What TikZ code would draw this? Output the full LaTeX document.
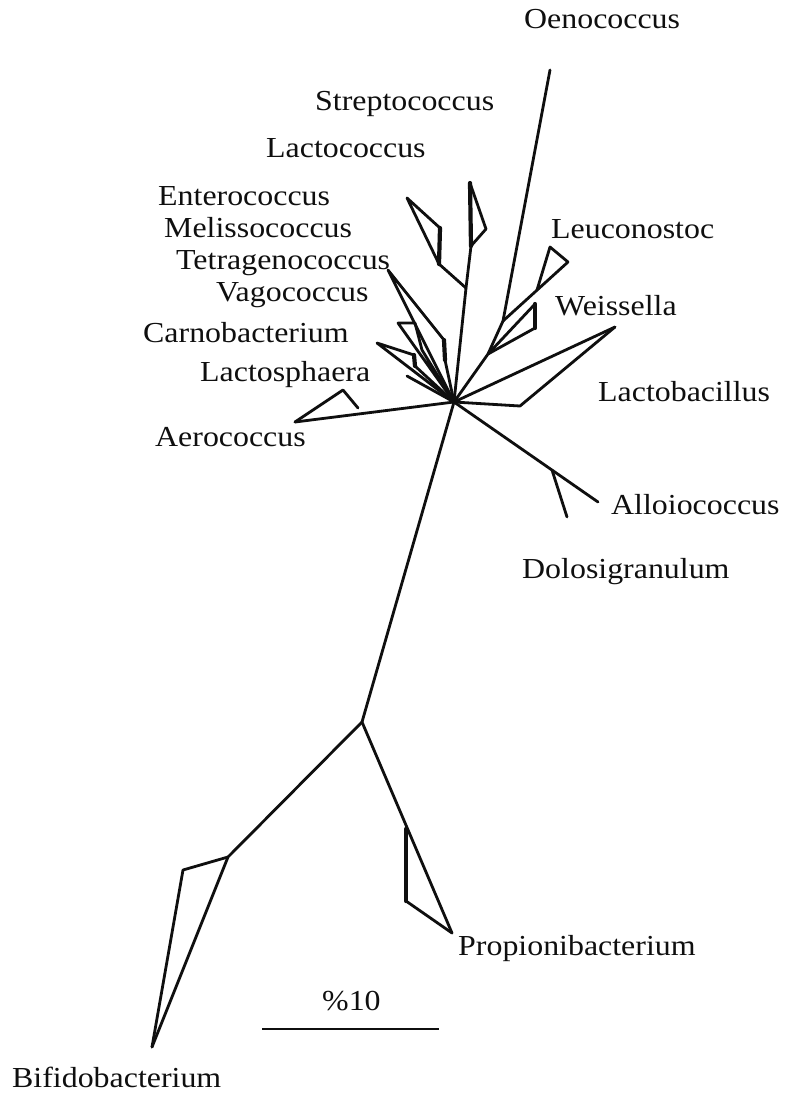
\documentclass[tikz,border=0pt]{standalone}
\usepackage{fontspec}
\setmainfont{Liberation Serif}[FakeStretch=1.1]
\usepackage{xcolor}
\definecolor{phInk}{RGB}{15,15,15}
\usepackage{tikz}
\tikzset{
  ph-edge/.style={draw=phInk,line width=2.8pt,line join=round,line cap=round},
  ph-heavy/.style={draw=phInk,line width=4.2pt,line join=round,line cap=round},
  ph-taxon/.style={anchor=base west,inner sep=0pt,text=phInk,font=\fontsize{29}{34}\selectfont},
}

\begin{document}
\begin{tikzpicture}[x=1pt,y=-1pt]
  \fill[white] (0,0) rectangle (790,1093);
  \useasboundingbox (0,0) rectangle (790,1093);

  % backbone and outgroups
  \coordinate (hub) at (454,402);
  \coordinate (lo) at (362,722);
  \coordinate (bif) at (228,857);
  \coordinate (bifk) at (183,870);
  \coordinate (biftip) at (152,1047);
  \coordinate (prpa) at (406,829);
  \coordinate (prpb) at (406,901);
  \coordinate (prptip) at (452,933);

  % right-hand clades
  \coordinate (n2) at (488,354);
  \coordinate (n1) at (503,321);
  \coordinate (oeno) at (550,70);
  \coordinate (leu) at (568,262);
  \coordinate (leuk) at (537,290);
  \coordinate (leua) at (550,247);
  \coordinate (weia) at (535,304);
  \coordinate (weib) at (535,328);
  \coordinate (lb) at (615,327);
  \coordinate (lbk) at (520,406);
  \coordinate (allo) at (598,502);
  \coordinate (dolk) at (552,470);
  \coordinate (dol) at (567,517);

  % upper clades
  \coordinate (strep) at (470,183);
  \coordinate (strepk) at (471,246);
  \coordinate (strepa) at (486,229);
  \coordinate (ent) at (466,288);
  \coordinate (entk) at (439,264);
  \coordinate (enttip) at (407,198);
  \coordinate (enta) at (440,228);

  % left-hand clades
  \coordinate (tet) at (388,270);
  \coordinate (tetk1) at (444,340);
  \coordinate (tetk2) at (445,360);
  \coordinate (vago) at (398,323);
  \coordinate (vagok) at (415,323);
  \coordinate (vagok2) at (422,350);
  \coordinate (carno) at (377,343);
  \coordinate (carnok1) at (414,355);
  \coordinate (carnok2) at (415,366);
  \coordinate (lsph) at (407,376);
  \coordinate (aero) at (295,422);
  \coordinate (aerok1) at (358,408);
  \coordinate (aerok2) at (343,390);

  % scale bar
  \coordinate (barL) at (262,1029);
  \coordinate (barR) at (439,1029);

  % branches
  \draw[ph-edge] (hub) -- (lo);
  \draw[ph-edge] (lo) -- (bif) -- (biftip);
  \draw[ph-edge] (bif) -- (bifk) -- (biftip);
  \draw[ph-edge] (lo) -- (prptip);
  \draw[ph-heavy] (prpa) -- (prpb);
  \draw[ph-edge] (prpb) -- (prptip);

  \draw[ph-edge] (hub) -- (n2) -- (n1) -- (oeno);
  \draw[ph-edge] (n1) -- (leu);
  \draw[ph-edge] (leuk) -- (leua) -- (leu);
  \draw[ph-edge] (n2) -- (weia);
  \draw[ph-heavy] (weia) -- (weib);
  \draw[ph-edge] (weib) -- (n2);
  \draw[ph-edge] (hub) -- (lb);
  \draw[ph-edge] (hub) -- (lbk) -- (lb);
  \draw[ph-edge] (hub) -- (allo);
  \draw[ph-edge] (dolk) -- (dol);

  \draw[ph-edge] (hub) -- (ent) -- (strepk);
  \draw[ph-heavy] (strepk) -- (strep);
  \draw[ph-edge] (strep) -- (strepa) -- (strepk);
  \draw[ph-edge] (ent) -- (entk) -- (enttip) -- (enta);
  \draw[ph-heavy] (enta) -- (entk);

  \draw[ph-edge] (hub) -- (tet) -- (tetk1);
  \draw[ph-heavy] (tetk1) -- (tetk2);
  \draw[ph-edge] (tetk2) -- (hub);
  \draw[ph-edge] (hub) -- (vago) -- (vagok) -- (vagok2) -- (hub);
  \draw[ph-edge] (hub) -- (carno) -- (carnok1);
  \draw[ph-heavy] (carnok1) -- (carnok2);
  \draw[ph-edge] (carnok2) -- (hub);
  \draw[ph-edge] (hub) -- (lsph);
  \draw[ph-edge] (hub) -- (aero);
  \draw[ph-edge] (aerok1) -- (aerok2) -- (aero);

  \draw[ph-edge,line cap=butt] (barL) -- (barR);

  % taxon labels
  \node[ph-taxon] (oenoL) at (524,28) {Oenococcus};
  \node[ph-taxon] (strepL) at (315,110) {Streptococcus};
  \node[ph-taxon] (lcocL) at (266,157) {Lactococcus};
  \node[ph-taxon] (entL) at (158,205) {Enterococcus};
  \node[ph-taxon] (melL) at (164,237) {Melissococcus};
  \node[ph-taxon] (tetL) at (176,269) {Tetragenococcus};
  \node[ph-taxon] (vagoL) at (216,301) {Vagococcus};
  \node[ph-taxon] (carnoL) at (143,342) {Carnobacterium};
  \node[ph-taxon] (lsphL) at (200,381) {Lactosphaera};
  \node[ph-taxon] (aeroL) at (155,446) {Aerococcus};
  \node[ph-taxon] (leuL) at (551,238) {Leuconostoc};
  \node[ph-taxon] (weiL) at (555,315) {Weissella};
  \node[ph-taxon] (lbL) at (598,401) {Lactobacillus};
  \node[ph-taxon] (alloL) at (611,514) {Alloiococcus};
  \node[ph-taxon] (dolL) at (522,578) {Dolosigranulum};
  \node[ph-taxon] (prpL) at (458,955) {Propionibacterium};
  \node[ph-taxon] (bifL) at (12,1087) {Bifidobacterium};
  \node[ph-taxon] (barT) at (322,1010) {\%10};
\end{tikzpicture}
\end{document}
